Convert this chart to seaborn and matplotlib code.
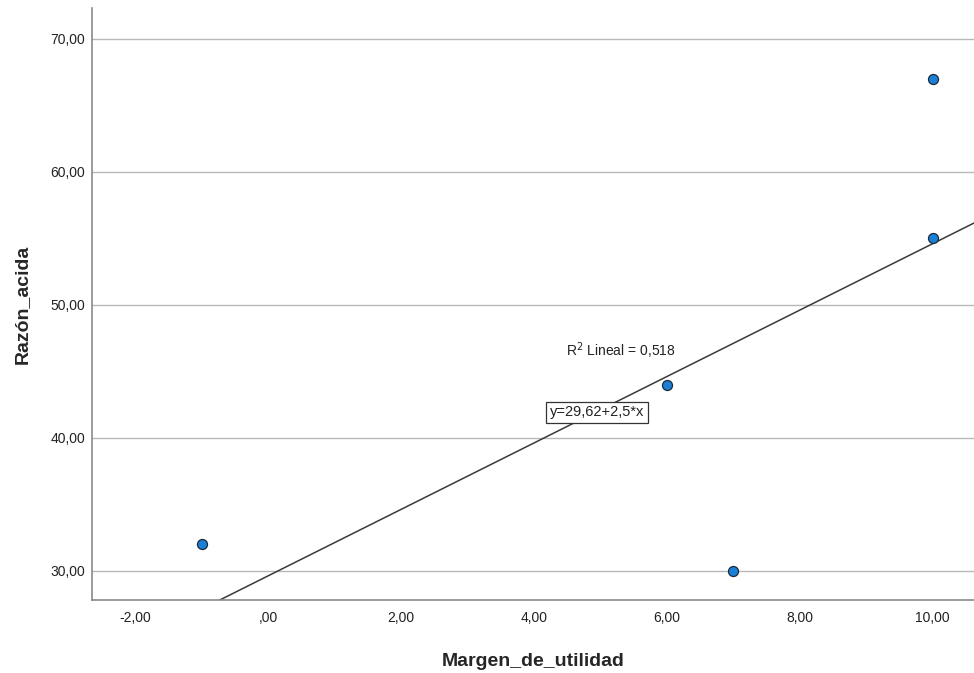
import numpy as np
import matplotlib
matplotlib.use("Agg")
import matplotlib.pyplot as plt
import seaborn as sns
from matplotlib.ticker import FuncFormatter

# data
margen = [-1, 6, 7, 10, 10]
razon = [32, 44, 30, 55, 67]
x_ticks = [-2, 0, 2, 4, 6, 8, 10]
y_ticks = [30, 40, 50, 60, 70]

sns.set_style("white")
plt.rcParams["font.family"] = ["Arial", "Liberation Sans", "DejaVu Sans"]


def coma(v, pos=None):
    # SPSS style: comma decimals, no leading zero
    s = f"{v:.2f}".replace(".", ",")
    if s.startswith("0,"):
        s = s[1:]
    if s.startswith("-0,"):
        s = "-" + s[2:]
    return s


fig = plt.figure(figsize=(9.74, 6.73), dpi=100)
ax = fig.add_axes([0.0945, 0.1085, 0.9055, 0.8795])

ax.set_xlim(-2.65, 10.62)
ax.set_ylim(27.8, 72.3)
ax.set_yticks(y_ticks)
ax.set_xticks(x_ticks)
ax.yaxis.grid(True, color="#b8b8b8", linewidth=1.0)
ax.set_axisbelow(True)

sns.regplot(x=margen, y=razon, ax=ax, ci=None, truncate=False,
            scatter_kws=dict(s=52, color="#1a80d6", edgecolor="#1a2a3a",
                             linewidths=0.9, alpha=1, zorder=3),
            line_kws=dict(color="#3a3a3a", linewidth=1.1, zorder=2))

ax.set_xlim(-2.65, 10.62)
ax.set_ylim(27.8, 72.3)

slope, inter = np.polyfit(margen, razon, 1)
r2 = np.corrcoef(margen, razon)[0, 1] ** 2

ax.text(5.3, 45.8, "R$^2$ Lineal = " + f"{r2:.3f}".replace(".", ","),
        ha="center", va="bottom", fontsize=10, color="#222222")
ax.text(4.95, 41.9, f"y={inter:.2f}+{slope:.1f}*x".replace(".", ","),
        ha="center", va="center", fontsize=10.5, color="#222222",
        bbox=dict(boxstyle="square,pad=0.25", fc="white", ec="#333333", lw=0.9))

ax.xaxis.set_major_formatter(FuncFormatter(coma))
ax.yaxis.set_major_formatter(FuncFormatter(coma))
ax.tick_params(axis="both", length=0, labelsize=10, colors="#222222")
ax.tick_params(axis="x", pad=8)
ax.tick_params(axis="y", pad=5)

for side in ["top", "right"]:
    ax.spines[side].set_visible(False)
for side in ["left", "bottom"]:
    ax.spines[side].set_color("#8a8a8a")
    ax.spines[side].set_linewidth(1.2)

ax.set_xlabel("Margen_de_utilidad", fontsize=14, fontweight="bold", labelpad=20)
ax.set_ylabel("Razón_acida", fontsize=14, fontweight="bold", labelpad=14)

fig.savefig("out.png", dpi=100)
